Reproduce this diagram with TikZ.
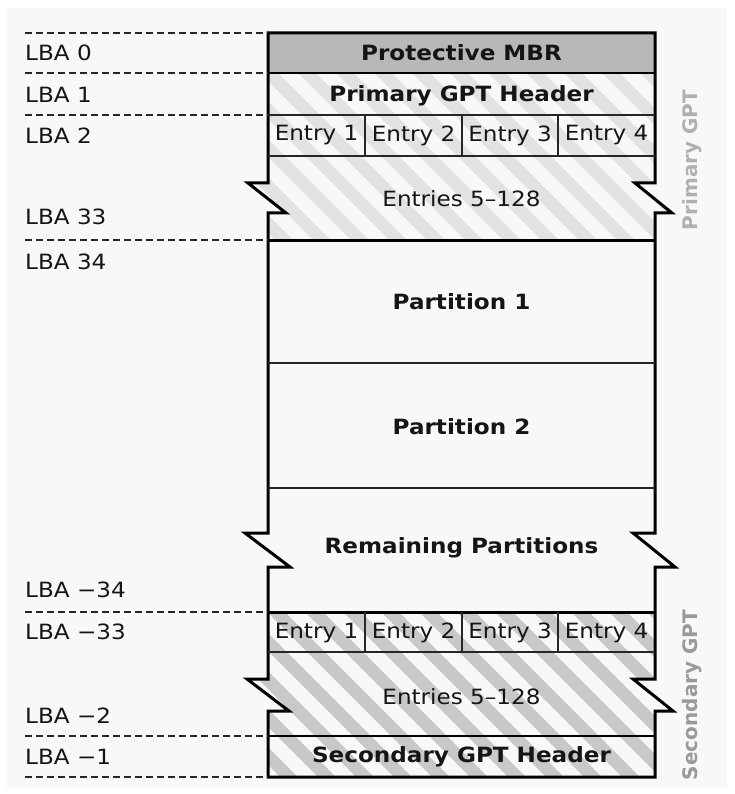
\documentclass[tikz,border=0pt]{standalone}
\usepackage{fontspec}
\setmainfont{DejaVu Sans}[FakeStretch=1.1]
\newfontfamily\sidefont{DejaVu Sans}
\definecolor{bgc}{HTML}{F8F8F8}
\definecolor{mbrc}{HTML}{B8B8B8}
\definecolor{hatchA}{HTML}{E2E2E2}
\definecolor{hatchB}{HTML}{C8C8C8}
\definecolor{sideA}{HTML}{B0B0B0}
\definecolor{sideB}{HTML}{9A9A9A}
\definecolor{txt}{HTML}{151515}
\tikzset{
  lbl/.style={anchor=west, inner sep=0pt, font=\fontsize{21}{24}\selectfont, text=txt},
  boxtext/.style={inner sep=0pt, font=\fontsize{21}{24}\selectfont, text=txt},
  boldtext/.style={inner sep=0pt, font=\fontsize{21}{24}\selectfont\bfseries, text=txt},
  sidetext/.style={inner sep=0pt, rotate=90, font=\fontsize{20}{24}\sidefont\bfseries},
  guide/.style={dashed, dash pattern=on 7pt off 4pt, line width=1.2pt, black!85},
  outline/.style={line width=3pt, black, line join=miter},
  thinsep/.style={line width=1.4pt, black!85},
  midsep/.style={line width=2.2pt, black},
  stripe/.style={line width=12.5pt}
}
\begin{document}
\begin{tikzpicture}[x=1pt,y=-1pt]
\useasboundingbox (0,0) rectangle (734,794);
\fill[white] (0,0) rectangle (734,794);
\fill[bgc] (7,8) rectangle (727,788);

% ---- fills ----
\fill[mbrc] (268,33) rectangle (655,73);
% primary hatched region
\begin{scope}
  \clip (268,73) -- (268,183) -- (248,183) -- (286,213) -- (268,213) -- (268,240)
        -- (655,240) -- (655,213) -- (672,213) -- (635,183) -- (655,183) -- (655,73) -- cycle;
  \foreach \k in {-16,...,20} \draw[stripe, hatchA] (\k*38+6,0) -- ++(800,800);
\end{scope}
% secondary hatched region
\begin{scope}
  \clip (268,612) -- (268,679) -- (247,679) -- (289,711) -- (268,711) -- (268,777)
        -- (655,777) -- (655,711) -- (673,711) -- (633,679) -- (655,679) -- (655,612) -- cycle;
  \foreach \k in {-16,...,20} \draw[stripe, hatchB] (\k*38+6,0) -- ++(800,800);
\end{scope}

% ---- outline ----
\draw[outline] (268,33) -- (268,183) -- (248,183) -- (286,213) -- (268,213)
   -- (268,533) -- (245,533) -- (290,567) -- (268,567)
   -- (268,679) -- (247,679) -- (289,711) -- (268,711)
   -- (268,777) -- (655,777)
   -- (655,711) -- (673,711) -- (633,679) -- (655,679)
   -- (655,567) -- (675,567) -- (633,533) -- (655,533)
   -- (655,213) -- (672,213) -- (635,183) -- (655,183)
   -- (655,33) -- cycle;

% ---- horizontal separators ----
\draw[midsep] (268,73) -- (655,73);
\draw[thinsep] (268,115) -- (655,115);
\draw[thinsep] (268,156) -- (655,156);
\draw[outline] (268,240) -- (655,240);
\draw[thinsep] (268,363) -- (655,363);
\draw[thinsep] (268,488) -- (655,488);
\draw[outline] (268,612) -- (655,612);
\draw[thinsep] (268,652) -- (655,652);
\draw[midsep] (268,736) -- (655,736);
% entry cell separators
\foreach \x in {365,462,558} {
  \draw[thinsep] (\x,115) -- (\x,156);
  \draw[thinsep] (\x,612) -- (\x,652);
}

% ---- dashed guides ----
\foreach \n/\y in {a/33,b/73,c/115,d/240,e/612,f/736,g/777} {
  \coordinate (g\n l) at (25,\y);
  \coordinate (g\n r) at (268,\y);
  \draw[guide] (g\n l) -- (g\n r);
}

% ---- LBA labels ----
\node[lbl] (lba0)  at (25,53)  {LBA 0};
\node[lbl] (lba1)  at (25,95)  {LBA 1};
\node[lbl] (lba2)  at (25,136) {LBA 2};
\node[lbl] (lba33) at (25,217) {LBA 33};
\node[lbl] (lba34) at (25,262) {LBA 34};
\node[lbl] (lbam34) at (25,590) {LBA −34};
\node[lbl] (lbam33) at (25,632) {LBA −33};
\node[lbl] (lbam2)  at (25,716) {LBA −2};
\node[lbl] (lbam1)  at (25,757) {LBA −1};

% ---- box texts ----
\node[boldtext] (mbr) at (461.5,53) {Protective MBR};
\node[boldtext] (pgh) at (461.5,96) {Primary GPT Header};
\node[boxtext] (pe1) at (316.5,135.5) {Entry 1};
\node[boxtext] (pe2) at (413.5,135.5) {Entry 2};
\node[boxtext] (pe3) at (510,135.5) {Entry 3};
\node[boxtext] (pe4) at (606.5,135.5) {Entry 4};
\node[boxtext] (pent) at (461.5,199) {Entries 5–128};
\node[boldtext] (p1) at (461.5,302) {Partition 1};
\node[boldtext] (p2) at (461.5,427) {Partition 2};
\node[boldtext] (prem) at (461.5,548) {Remaining Partitions};
\node[boxtext] (se1) at (316.5,633) {Entry 1};
\node[boxtext] (se2) at (413.5,633) {Entry 2};
\node[boxtext] (se3) at (510,633) {Entry 3};
\node[boxtext] (se4) at (606.5,633) {Entry 4};
\node[boxtext] (sent) at (461.5,697) {Entries 5–128};
\node[boldtext] (sgh) at (461.5,757) {Secondary GPT Header};

% ---- side labels ----
\node[sidetext, text=sideA] (sideP) at (692,160) {Primary GPT};
\node[sidetext, text=sideB] (sideS) at (692,695) {Secondary GPT};
\end{tikzpicture}
\end{document}
